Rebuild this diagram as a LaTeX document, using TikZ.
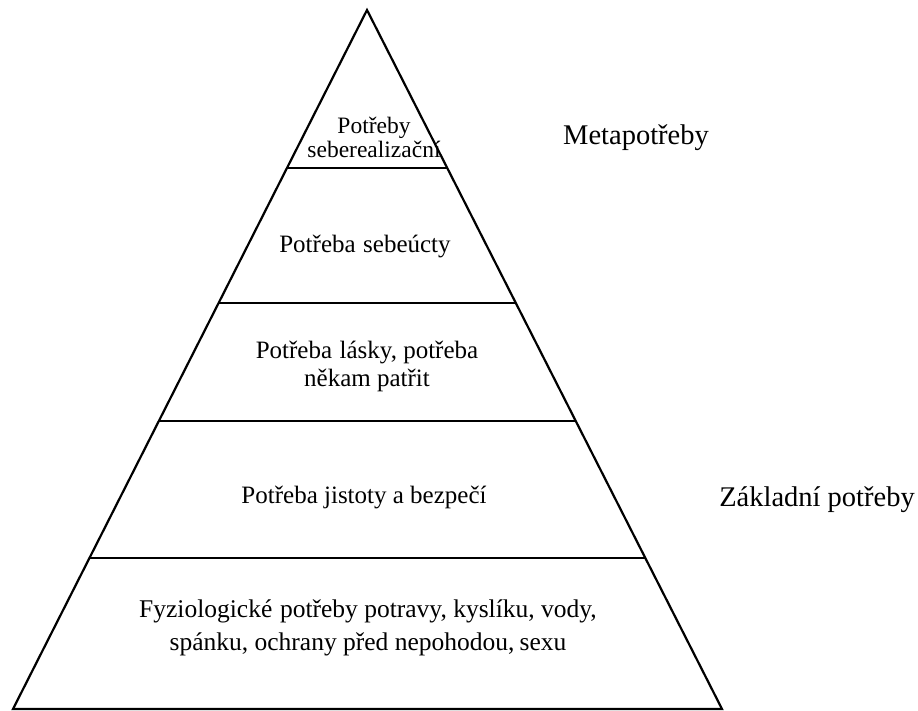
\documentclass[tikz,border=0pt]{standalone}
\usepackage{fontspec}
\setmainfont{Liberation Serif}
\usetikzlibrary{calc}
\begin{document}
\begin{tikzpicture}[x=1pt,y=-1pt,
  edge/.style={line width=2.2pt,line join=miter},
  tier/.style={line width=2.2pt},
  lvl/.style={align=center,inner sep=0pt,font=\fontsize{25}{28}\selectfont},
  side/.style={inner sep=0pt,font=\fontsize{28.5}{32}\selectfont}]
\useasboundingbox (0,0) rectangle (918,711);
\coordinate (A) at (367,10);
\coordinate (BL) at (13,709);
\coordinate (BR) at (722,709);
\draw[edge] (BL) -- (A) -- (BR) -- cycle;
\foreach \t/\n in {0.2260/a,0.4192/b,0.5880/c,0.7840/d}{
  \coordinate (L\n) at ($(A)!\t!(BL)$);
  \coordinate (R\n) at ($(A)!\t!(BR)$);
  \draw[tier] (L\n) -- (R\n);
}
\node[lvl,font=\fontsize{23.5}{24}\selectfont] (n1) at (374,137) {Potřeby\\seberealizační};
\node[lvl] (n2) at (365,247) {Potřeba\hspace{0.3em}sebeúcty};
\node[lvl,font=\fontsize{25}{28}\selectfont] (n3) at (367,366) {Potřeba\hspace{0.3em}lásky, potřeba\\někam patřit};
\node[lvl] (n4) at (364,497) {Potřeba jistoty a bezpečí};
\node[lvl,font=\fontsize{25.5}{33}\selectfont] (n5) at (368,628) {Fyziologické\hspace{0.3em}potřeby potravy, kyslíku, vody,\\spánku, ochrany před nepohodou,\hspace{0.2em}sexu};
\node[side] (m) at (636,138) {Metapotřeby};
\node[side] (z) at (817,500) {Základní potřeby};
\end{tikzpicture}
\end{document}
